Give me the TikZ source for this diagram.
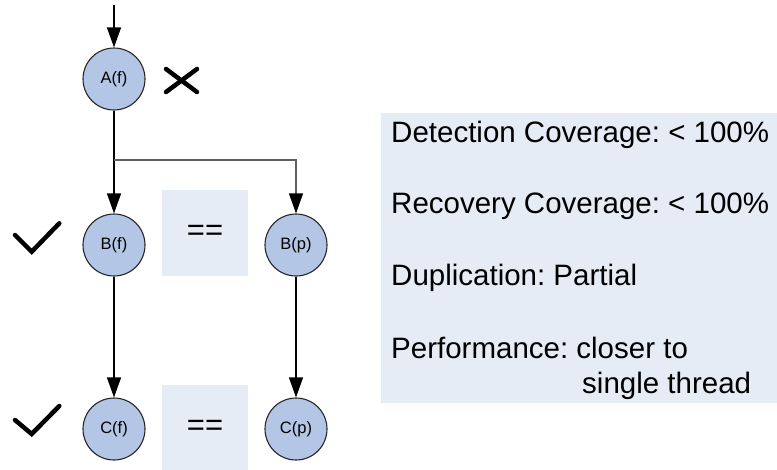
\documentclass[tikz,border=0pt]{standalone}
\usepackage{fontspec}
\setmainfont{Liberation Sans}
\usetikzlibrary{arrows.meta}
\definecolor{nodefill}{HTML}{B3C6E6}
\definecolor{panelfill}{HTML}{E6ECF6}
\definecolor{branchgray}{HTML}{5F5F5F}
\frenchspacing
\begin{document}
\begin{tikzpicture}[x=1pt,y=-1pt,
  stage/.style={circle, draw=black!85, line width=1.1pt, fill=nodefill,
    minimum size=62pt, inner sep=0pt, font=\fontsize{16.5}{18}\selectfont},
  flow/.style={line width=1.2pt, -{Triangle[length=20pt,width=14pt]}},
  branchline/.style={line width=1.2pt, draw=branchgray,
    -{Triangle[length=20pt,width=14pt,color=black]}},
  eqbox/.style={fill=panelfill, minimum width=86pt, minimum height=86pt,
    inner sep=0pt, font=\fontsize{31}{31}\selectfont},
  tick/.style={line width=4.5pt, line cap=round, line join=miter},
  paneltext/.style={anchor=base west, inner sep=0pt, font=\fontsize{29.5}{30}\selectfont}
]
\useasboundingbox (0,0) rectangle (777,469);

% comparison boxes
\node[eqbox] (eqB) at (205,233) {==};
\node[eqbox, minimum height=85pt] (eqC) at (205,427.5) {==};

% stages
\node[stage] (A)  at (114,79)  {A(f)};
\node[stage] (Bf) at (114,245) {B(f)};
\node[stage] (Bp) at (296,245) {B(p)};
\node[stage] (Cf) at (114,429) {C(f)};
\node[stage] (Cp) at (296,429) {C(p)};

% connectors
\coordinate (entry) at (114,5);
\coordinate (split) at (114,160);
\coordinate (corner) at (296,160);
\draw[flow] (entry) -- (A);
\draw[flow] (A) -- (Bf);
\draw[branchline] (split) -- (corner) -- (Bp);
\draw[flow] (Bf) -- (Cf);
\draw[flow] (Bp) -- (Cp);

% failure and success marks
\draw[tick] (166,69) -- (197,92);
\draw[tick] (166,92) -- (197,69);
\draw[tick] (15,235) -- (31.7,251.7) -- (59.3,223.3);
\draw[tick] (15,420) -- (31.7,434) -- (59.3,406);

% summary panel
\path[fill=panelfill] (381,113) rectangle (777,403);
\node[paneltext] (det)  at (391,142) {Detection Coverage: < 100\%};
\node[paneltext] (rec)  at (391,213) {Recovery Coverage: < 100\%};
\node[paneltext] (dup)  at (391,285) {Duplication: Partial};
\node[paneltext] (perf) at (391,358) {Performance: closer to};
\node[paneltext] (perf2) at (582,393) {single thread};
\end{tikzpicture}
\end{document}
